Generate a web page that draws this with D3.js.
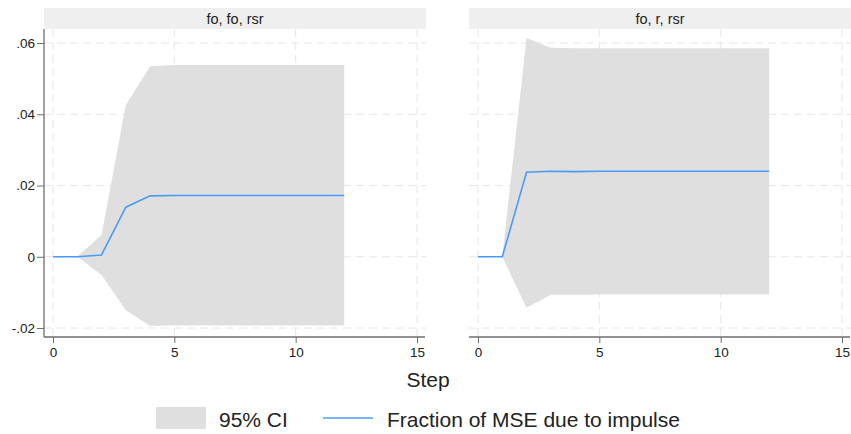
<!DOCTYPE html>
<html>
<head>
<meta charset="utf-8">
<script src="https://cdn.jsdelivr.net/npm/d3@7"></script>
<style>
  html, body { margin: 0; padding: 0; background: #fff; }
  svg { display: block; font-family: "Liberation Sans", Arial, sans-serif; }
</style>
</head>
<body>
<svg id="chart" width="851" height="434"></svg>
<script>
// ---- data ----
const steps = [0, 1, 2, 3, 4, 5, 6, 7, 8, 9, 10, 11, 12];
const panelTitles = ["fo, fo, rsr", "fo, r, rsr"];
const fevd1  = [0, 0, 0.0005, 0.0139, 0.0171, 0.0172, 0.0172, 0.0172, 0.0172, 0.0172, 0.0172, 0.0172, 0.0172];
const upper1 = [null, 0, 0.0061, 0.0426, 0.0535, 0.0538, 0.0538, 0.0538, 0.0538, 0.0538, 0.0538, 0.0538, 0.0538];
const lower1 = [null, 0, -0.0051, -0.0150, -0.0194, -0.0193, -0.0193, -0.0193, -0.0193, -0.0193, -0.0193, -0.0193, -0.0193];
const fevd2  = [0, 0, 0.0237, 0.0240, 0.0239, 0.0240, 0.0240, 0.0240, 0.0240, 0.0240, 0.0240, 0.0240, 0.0240];
const upper2 = [null, 0, 0.0614, 0.0587, 0.0585, 0.0585, 0.0585, 0.0585, 0.0585, 0.0585, 0.0585, 0.0585, 0.0585];
const lower2 = [null, 0, -0.0143, -0.0107, -0.0107, -0.0106, -0.0106, -0.0106, -0.0106, -0.0106, -0.0106, -0.0106, -0.0106];
const xTicks = [0, 5, 10, 15];
const yTicks = [-0.02, 0, 0.02, 0.04, 0.06];
const yTickLabels = ["-.02", "0", ".02", ".04", ".06"];
const legendLabels = ["95% CI", "Fraction of MSE due to impulse"];
const xTitle = "Step";

// ---- styles ----
const ciColor = "#dfdfdf";
const lineColor = "#4a9bf7";
const stripColor = "#efefef";
const axisColor = "#6e6e6e";
const gridColor = "#e6e6e6";
const textColor = "#222";
const fam = "Liberation Sans, Arial, sans-serif";

const svg = d3.select("#chart");

const panels = [
  { title: panelTitles[0], fevd: fevd1, upper: upper1, lower: lower1, left: 44, right: 426, x0: 53, x1: 417, yAxis: true },
  { title: panelTitles[1], fevd: fevd2, upper: upper2, lower: lower2, left: 469, right: 851, x0: 478, x1: 842, yAxis: false }
];
const plotTop = 29, plotBottom = 337;
const y = d3.scaleLinear().domain([-0.02, 0.06]).range([328, 43]);

panels.forEach(p => {
  const x = d3.scaleLinear().domain([0, 15]).range([p.x0, p.x1]);
  const g = svg.append("g");

  // strip
  g.append("rect").attr("x", p.left).attr("y", 8).attr("width", p.right - p.left).attr("height", 21).attr("fill", stripColor);
  g.append("text").attr("x", (p.left + p.right) / 2).attr("y", 24).attr("text-anchor", "middle")
    .attr("font-size", 14.5).attr("fill", textColor).text(p.title);

  // gridlines
  g.selectAll(".hg").data(yTicks).enter().append("line")
    .attr("x1", p.left).attr("x2", p.right).attr("y1", d => y(d)).attr("y2", d => y(d))
    .attr("stroke", gridColor).attr("stroke-width", 1).attr("stroke-dasharray", "8,5");
  g.selectAll(".vg").data(xTicks).enter().append("line")
    .attr("x1", d => x(d)).attr("x2", d => x(d)).attr("y1", plotTop).attr("y2", plotBottom)
    .attr("stroke", gridColor).attr("stroke-width", 1).attr("stroke-dasharray", "8,5");

  // CI area
  const ciData = steps.map((s, i) => ({ s, lo: p.lower[i], hi: p.upper[i] }));
  const area = d3.area().defined(d => d.lo !== null && d.hi !== null)
    .x(d => x(d.s)).y0(d => y(d.lo)).y1(d => y(d.hi));
  g.append("path").datum(ciData).attr("d", area).attr("fill", ciColor);

  // line
  const lineData = steps.map((s, i) => ({ s, v: p.fevd[i] }));
  const line = d3.line().x(d => x(d.s)).y(d => y(d.v));
  g.append("path").datum(lineData).attr("d", line).attr("fill", "none")
    .attr("stroke", lineColor).attr("stroke-width", 1.6);

  // x axis
  const xAxis = d3.axisBottom(x).tickValues(xTicks).tickSize(6).tickPadding(4).tickFormat(d3.format("d"));
  const xa = g.append("g").attr("transform", `translate(0,${plotBottom})`).call(xAxis);
  xa.select(".domain").remove();
  xa.append("line").attr("x1", p.left).attr("x2", p.right - 1).attr("stroke", axisColor).attr("stroke-width", 1.3);
  xa.selectAll(".tick line").attr("stroke", axisColor);
  xa.selectAll(".tick text").attr("font-size", 13.5).attr("fill", textColor).attr("font-family", fam);

  if (p.yAxis) {
    const yAxis = d3.axisLeft(y).tickValues(yTicks).tickSize(7).tickPadding(2)
      .tickFormat((d, i) => yTickLabels[i]);
    const ya = g.append("g").attr("transform", `translate(${p.left},0)`).call(yAxis);
    ya.select(".domain").remove();
    ya.append("line").attr("y1", plotTop).attr("y2", plotBottom).attr("stroke", axisColor).attr("stroke-width", 1.3);
    ya.selectAll(".tick line").attr("stroke", axisColor);
    ya.selectAll(".tick text").attr("font-size", 13.5).attr("fill", textColor).attr("font-family", fam);
  }
});

// x title
svg.append("text").attr("x", 428).attr("y", 387).attr("text-anchor", "middle")
  .attr("font-size", 21).attr("fill", textColor).text(xTitle);

// legend
const lg = svg.append("g");
lg.append("rect").attr("x", 156).attr("y", 407).attr("width", 50).attr("height", 22).attr("fill", ciColor);
lg.append("text").attr("x", 219).attr("y", 427).attr("font-size", 21).attr("fill", textColor).text(legendLabels[0]);
lg.append("line").attr("x1", 323).attr("x2", 373).attr("y1", 418).attr("y2", 418)
  .attr("stroke", lineColor).attr("stroke-width", 1.6);
lg.append("text").attr("x", 387).attr("y", 427).attr("font-size", 21).attr("fill", textColor).text(legendLabels[1]);
</script>
</body>
</html>
